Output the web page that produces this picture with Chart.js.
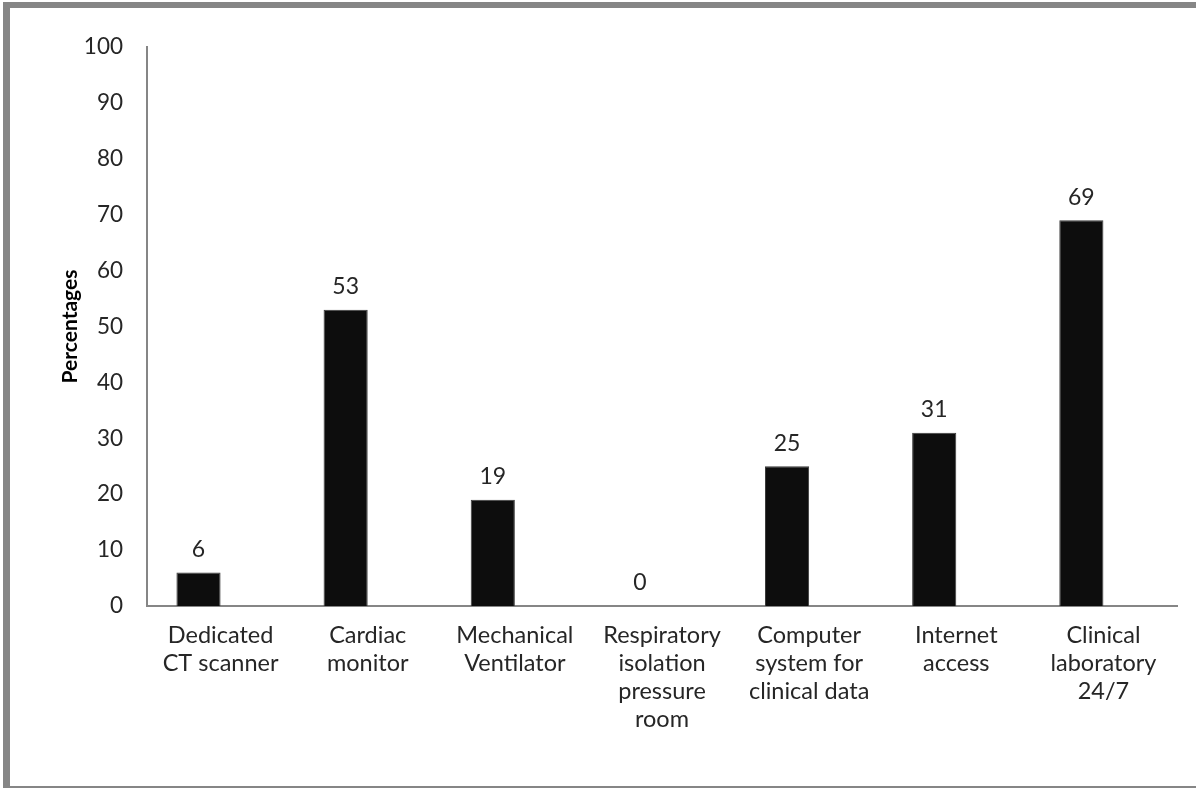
<!DOCTYPE html>
<html>
<head>
<meta charset="utf-8">
<script src="https://cdn.jsdelivr.net/npm/chart.js@4.4.1/dist/chart.umd.min.js"></script>
<style>
  html, body { margin: 0; padding: 0; background: #ffffff; }
  body { width: 1196px; height: 790px; position: relative; overflow: hidden; }
  #frame {
    position: absolute; left: 3px; top: 2px; width: 1193px; height: 786px;
    box-sizing: border-box;
    border-top: 6px solid #868686; border-left: 7px solid #868686;
    border-bottom: 2px solid #868686; border-right: none;
    pointer-events: none;
  }
  #wrap { position: absolute; left: 0; top: 0; width: 1196px; height: 790px; }
</style>
</head>
<body>
<div id="wrap"><canvas id="c" width="1196" height="790"></canvas></div>
<div id="frame"></div>
<script>
const categories = [
  ["Dedicated", "CT scanner"],
  ["Cardiac", "monitor"],
  ["Mechanical", "Ventilator"],
  ["Respiratory", "isolation", "pressure", "room"],
  ["Computer", "system for", "clinical data"],
  ["Internet", "access"],
  ["Clinical", "laboratory", "24/7"]
];
const percentages = [6, 53, 19, 0, 25, 31, 69];
const emptySeries = [null, null, null, null, null, null, null];
const yTicks = [0, 10, 20, 30, 40, 50, 60, 70, 80, 90, 100];

const FONT = "Lato, 'Open Sans', sans-serif";
const TEXT = "#262626";

const valueLabels = {
  id: "valueLabels",
  afterDatasetsDraw(chart) {
    const ctx = chart.ctx;
    const meta = chart.getDatasetMeta(0);
    ctx.save();
    ctx.font = "23px " + FONT;
    ctx.fillStyle = TEXT;
    ctx.textAlign = "center";
    ctx.textBaseline = "middle";
    meta.data.forEach((bar, i) => {
      ctx.fillText(String(percentages[i]), bar.x, bar.y - 23);
    });
    ctx.restore();
  }
};

new Chart(document.getElementById("c"), {
  type: "bar",
  data: {
    labels: categories,
    datasets: [
      { data: percentages, backgroundColor: "#0d0d0d", borderColor: "#3a3a3a", borderWidth: 1, borderSkipped: "bottom" },
      { data: emptySeries, backgroundColor: "#0d0d0d" }
    ]
  },
  options: {
    responsive: false,
    animation: false,
    devicePixelRatio: 1,
    categoryPercentage: 0.6,
    barPercentage: 1.0,
    layout: { padding: { left: 50, top: 47, right: 19, bottom: 0 } },
    plugins: { legend: { display: false }, tooltip: { enabled: false } },
    scales: {
      x: {
        grid: { display: false, drawTicks: false },
        border: { display: true, color: "#868686", width: 2 },
        ticks: {
          color: TEXT, font: { family: FONT, size: 23.5, lineHeight: 1.18 },
          padding: 16, maxRotation: 0, autoSkip: false
        },
        afterFit(scale) { scale.height = 184; }
      },
      y: {
        min: 0, max: 100,
        afterBuildTicks(scale) { scale.ticks = yTicks.map(v => ({ value: v })); },
        grid: { display: false, drawTicks: false },
        border: { display: true, color: "#868686", width: 2 },
        ticks: { color: TEXT, font: { family: FONT, size: 22.5 }, padding: 24 },
        title: {
          display: true, text: "Percentages", color: "#000000",
          font: { family: FONT, size: 21, weight: "bold" }, padding: { top: 8, bottom: 0 }
        },
        afterFit(scale) { scale.width = 97; }
      }
    }
  },
  plugins: [valueLabels]
});
</script>
</body>
</html>
